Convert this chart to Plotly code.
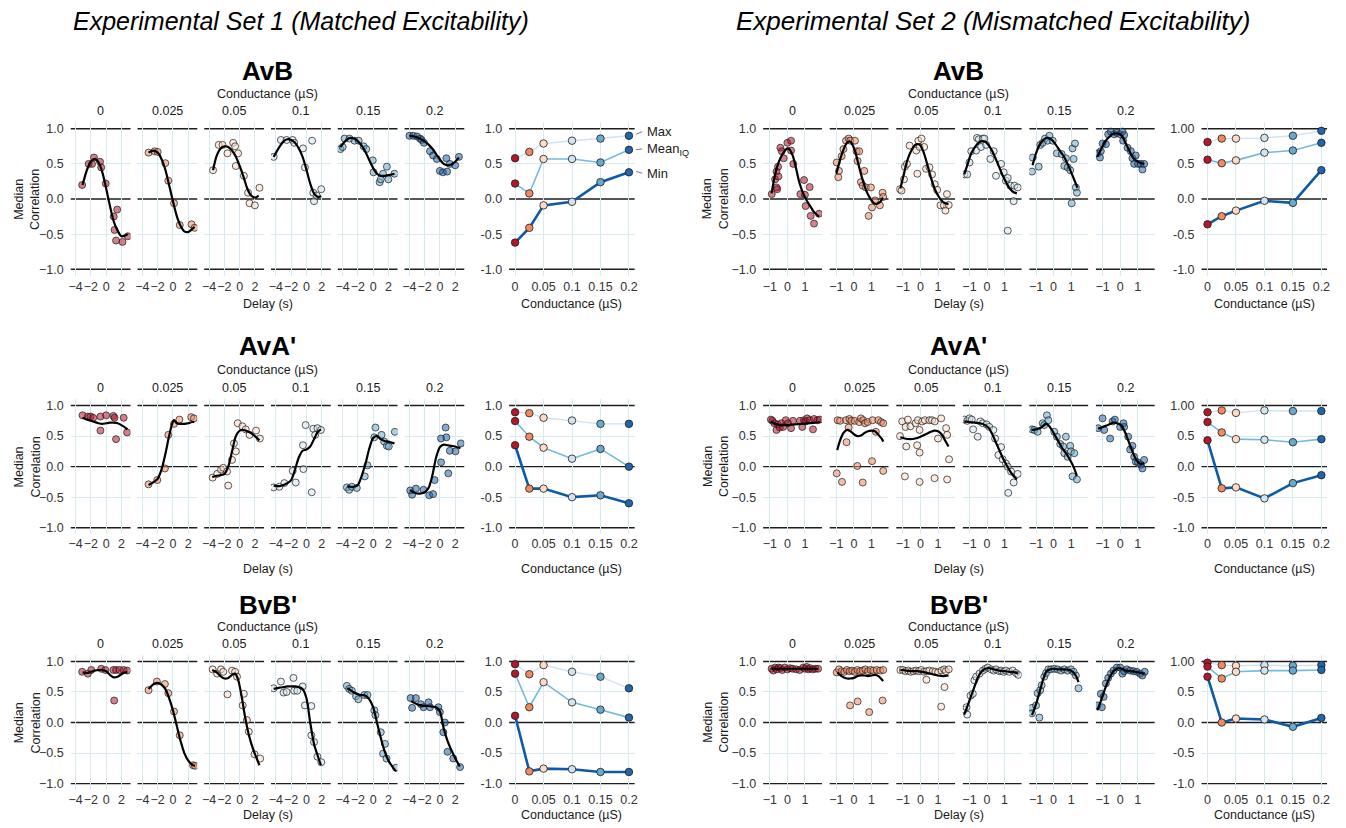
import plotly.graph_objects as go

W, H = 1346, 828
FONT = "Liberation Sans, Arial, Helvetica, sans-serif"

# ---------------- categories / ticks ----------------
conductance_labels = ["0", "0.025", "0.05", "0.1", "0.15", "0.2"]
conductance_values = [0, 0.025, 0.05, 0.1, 0.15, 0.2]
conductance_colors = ["#b2182b", "#ef8a62", "#fddbc7", "#d1e5f0", "#67a9cf", "#2166ac"]
point_colors = ["rgba(178,24,43,0.55)", "rgba(239,138,98,0.55)", "rgba(253,219,199,0.55)",
                "rgba(209,229,240,0.55)", "rgba(103,169,207,0.55)", "rgba(33,102,172,0.55)"]
set1_delay_ticks = [-4, -2, 0, 2]
set1_delay_ticktext = ["\u22124", "\u22122", "0", "2"]
set2_delay_ticks = [-1, 0, 1]
set2_delay_ticktext = ["\u22121", "0", "1"]
corr_ticks = [-1, -0.5, 0, 0.5, 1]
corr_grid = [-0.5, 0.5]
corr_black_lines = [-1, 0, 1]
corr_ticktext_small = ["\u22121.0", "\u22120.5", "0.0", "0.5", "1.0"]
corr_ticktext_sum1 = ["-1.0", "-0.5", "0.0", "0.5", "1.0"]
corr_ticktext_sum2 = ["-1.0", "-0.5", "0.0", "0.5", "1.00"]
summary_ticks = [0, 0.05, 0.1, 0.15, 0.2]
summary_ticktext = ["0", "0.05", "0.1", "0.15", "0.2"]

# ---------------- Set 1, AvB ----------------
s1_avb_delay = [
    [-3.15, -2.3, -1.85, -1.6, -0.8, -0.65, -0.05, 1.0, 1.1, 1.3, 1.45, 2.15, 2.85],
    [-3.2, -2.4, -2.0, -1.0, -0.6, 0.15, 0.9, 2.45, 2.85],
    [-3.5, -2.75, -2.25, -1.6, -0.85, -0.6, -0.5, -0.2, 0.55, 1.1, 1.3, 2.0, 2.6],
    [-4.3, -3.35, -2.6, -1.8, -1.6, -0.45, -0.2, 0.75, 0.9, 1.0, 1.35, 1.95],
    [-4.3, -4.0, -3.75, -3.1, -2.45, -1.9, -1.25, -0.9, -0.05, 0.05, 0.85, 1.0, 1.3, 1.8, 2.0, 2.8],
    [-4.0, -3.5, -3.0, -2.6, -2.4, -2.1, -1.3, -0.9, -0.4, 0.0, 0.4, 0.85, 0.95, 1.3, 2.0, 2.5],
]
s1_avb_corr = [
    [0.20, 0.50, 0.50, 0.59, 0.53, 0.45, 0.22, -0.25, -0.44, -0.59, -0.15, -0.61, -0.53],
    [0.66, 0.68, 0.67, 0.51, 0.26, -0.06, -0.37, -0.36, -0.41],
    [0.41, 0.77, 0.77, 0.65, 0.80, 0.75, 0.47, 0.65, 0.33, 0.09, -0.06, -0.09, 0.16],
    [0.60, 0.84, 0.84, 0.84, 0.80, 0.72, 0.45, 0.83, 0.09, -0.03, 0.05, 0.14],
    [0.71, 0.74, 0.86, 0.86, 0.83, 0.83, 0.75, 0.71, 0.55, 0.38, 0.24, 0.28, 0.36, 0.46, 0.28, 0.36],
    [0.90, 0.90, 0.89, 0.86, 0.84, 0.80, 0.68, 0.62, 0.57, 0.40, 0.38, 0.58, 0.39, 0.50, 0.48, 0.60],
]
s1_avb_fit_delay = [
    [-3.1, -2.5, -2, -1.5, -1, -0.5, 0, 0.5, 1, 1.5, 2, 2.5, 2.85],
    [-3.2, -2.6, -2, -1.5, -1, -0.5, 0, 0.5, 1, 1.5, 2, 2.5, 2.85],
    [-3.5, -3, -2.5, -2, -1.5, -1, -0.5, 0, 0.5, 1, 1.5, 2, 2.5],
    [-4.3, -3.5, -3, -2.5, -2, -1.5, -1, -0.5, 0, 0.5, 1, 1.5, 1.95],
    [-4.3, -3.5, -3, -2.5, -2, -1.5, -1, -0.5, 0, 0.5, 1, 1.5, 2, 2.8],
    [-4, -3, -2, -1, -0.5, 0, 0.5, 1, 1.5, 2, 2.5],
]
s1_avb_fit_corr = [
    [0.2, 0.42, 0.53, 0.57, 0.52, 0.38, 0.15, -0.1, -0.32, -0.45, -0.53, -0.52, -0.5],
    [0.66, 0.69, 0.66, 0.57, 0.42, 0.2, -0.03, -0.24, -0.38, -0.46, -0.47, -0.43, -0.4],
    [0.41, 0.62, 0.72, 0.75, 0.74, 0.69, 0.6, 0.47, 0.32, 0.15, 0.05, 0.02, 0.05],
    [0.6, 0.75, 0.82, 0.85, 0.84, 0.8, 0.72, 0.6, 0.42, 0.22, 0.08, 0.03, 0.04],
    [0.74, 0.84, 0.87, 0.86, 0.82, 0.76, 0.67, 0.55, 0.44, 0.36, 0.33, 0.33, 0.34, 0.36],
    [0.9, 0.88, 0.82, 0.72, 0.64, 0.56, 0.5, 0.48, 0.49, 0.53, 0.59],
]
s1_avb_max = [0.58, 0.67, 0.79, 0.83, 0.86, 0.90]
s1_avb_mean = [0.22, 0.08, 0.57, 0.57, 0.52, 0.70]
s1_avb_min = [-0.62, -0.41, -0.09, -0.04, 0.24, 0.38]

# ---------------- Set 1, AvA' ----------------
s1_ava_delay = [
    [-3.1, -2.4, -2.05, -1.7, -0.75, -0.75, 0.0, 0.95, 1.1, 1.3, 2.3, 2.75],
    [-3.2, -2.05, -1.05, -0.6, 0.15, 0.85, 2.4, 2.75],
    [-3.55, -2.95, -2.45, -2.15, -1.65, -1.5, -1.0, -0.75, -0.5, -0.25, 0.35, 0.8, 1.3, 2.15, 2.65],
    [-4.3, -3.55, -2.9, -1.8, -1.4, -0.45, -0.4, -0.1, 0.7, 0.9, 1.15, 1.45, 1.9],
    [-3.45, -3.15, -2.8, -2.15, -1.1, -0.75, 0.15, 0.3, 1.1, 1.45, 1.8, 2.05, 2.85],
    [-3.9, -3.65, -3.15, -2.15, -1.4, -0.9, -0.7, 0.15, 0.15, 0.85, 1.1, 0.75, 1.3, 2.05, 2.75],
]
s1_ava_corr = [
    [0.84, 0.82, 0.82, 0.80, 0.82, 0.59, 0.84, 0.83, 0.80, 0.45, 0.80, 0.56],
    [-0.29, -0.22, -0.03, 0.52, 0.70, 0.77, 0.81, 0.79],
    [-0.18, -0.12, -0.05, -0.02, -0.08, -0.31, 0.11, 0.38, 0.25, 0.71, 0.66, 0.61, 0.52, 0.59, 0.46],
    [-0.34, -0.33, -0.27, -0.07, -0.26, 0.35, -0.04, 0.68, -0.42, 0.62, 0.52, 0.63, 0.60],
    [-0.34, -0.38, -0.33, -0.35, -0.16, 0.02, 0.48, 0.64, 0.52, 0.41, 0.34, 0.33, 0.57],
    [-0.39, -0.46, -0.36, -0.38, -0.47, -0.45, -0.22, 0.07, 0.46, 0.48, -0.11, 0.64, 0.26, 0.25, 0.38],
]
s1_ava_fit_delay = [
    [-3.1, -2.5, -2, -1.5, -1, -0.5, 0, 0.5, 1, 1.5, 2, 2.5, 2.8],
    [-3.2, -2.5, -2, -1.5, -1, -0.5, -0.1, 0.15, 0.5, 1, 1.5, 2, 2.5, 2.8],
    [-3.6, -3, -2.5, -2, -1.5, -1, -0.5, 0, 0.5, 1, 1.5, 2, 2.6],
    [-4.3, -3.5, -3, -2.5, -2, -1.5, -1, -0.5, 0, 0.5, 1, 1.5, 1.9],
    [-3.4, -3, -2.5, -2, -1.5, -1, -0.5, 0, 0.5, 1, 1.5, 2, 2.8],
    [-3.9, -3.5, -3, -2.5, -2, -1.5, -1, -0.5, 0, 0.5, 1, 1.5, 2, 2.7],
]
s1_ava_fit_corr = [
    [0.8, 0.77, 0.75, 0.73, 0.71, 0.7, 0.71, 0.72, 0.72, 0.71, 0.68, 0.64, 0.61],
    [-0.3, -0.25, -0.2, -0.05, 0.2, 0.5, 0.7, 0.76, 0.71, 0.7, 0.7, 0.71, 0.73, 0.73],
    [-0.17, -0.15, -0.14, -0.12, 0.0, 0.25, 0.5, 0.59, 0.6, 0.58, 0.55, 0.5, 0.43],
    [-0.31, -0.32, -0.3, -0.27, -0.22, -0.05, 0.15, 0.26, 0.28, 0.33, 0.45, 0.57, 0.61],
    [-0.32, -0.33, -0.33, -0.3, -0.15, 0.05, 0.3, 0.47, 0.5, 0.45, 0.42, 0.41, 0.38],
    [-0.38, -0.42, -0.44, -0.44, -0.42, -0.35, -0.15, 0.15, 0.32, 0.36, 0.35, 0.34, 0.33, 0.3],
]
s1_ava_max = [0.89, 0.875, 0.80, 0.755, 0.70, 0.70]
s1_ava_mean = [0.745, 0.49, 0.31, 0.13, 0.29, 0.0]
s1_ava_min = [0.35, -0.36, -0.36, -0.50, -0.47, -0.60]

# ---------------- Set 1, BvB' ----------------
s1_bvb_delay = [
    [-3.15, -2.4, -1.95, -0.65, -0.1, 0.95, 1.05, 1.3, 1.75, 2.3, 2.75],
    [-3.2, -2.1, -1.05, -0.6, 0.15, 0.9, 2.65, 2.9],
    [-3.55, -2.95, -2.45, -2.15, -1.6, -1.0, -0.6, -0.35, 0.55, 0.4, 0.95, 1.2, 1.95, 2.7],
    [-4.3, -3.35, -3.0, -2.6, -1.7, -1.6, -1.2, -0.5, -0.2, 0.65, 0.65, 1.0, 1.45, 1.95],
    [-3.45, -3.15, -2.8, -2.25, -1.95, -1.15, -0.75, 0.15, 0.3, 1.0, 1.3, 1.55, 1.75, 3.0],
    [-3.85, -3.65, -3.15, -2.5, -2.15, -1.5, -1.3, -0.2, 0.0, 0.65, 0.45, 1.0, 1.75, 2.65],
]
s1_bvb_corr = [
    [0.83, 0.80, 0.86, 0.88, 0.86, 0.86, 0.36, 0.86, 0.86, 0.86, 0.85],
    [0.53, 0.67, 0.63, 0.48, 0.18, -0.21, -0.70, -0.71],
    [0.87, 0.80, 0.87, 0.83, 0.46, 0.85, 0.83, 0.75, 0.47, 0.28, 0.04, -0.15, -0.52, -0.59],
    [0.56, 0.67, 0.49, 0.50, 0.73, 0.52, 0.52, 0.59, 0.28, 0.27, -0.21, -0.32, -0.56, -0.65],
    [0.60, 0.55, 0.52, 0.43, 0.38, 0.45, 0.45, 0.20, 0.12, -0.16, -0.51, -0.35, -0.59, -0.74],
    [0.40, 0.24, 0.40, 0.30, 0.25, 0.33, 0.25, 0.25, 0.17, 0.0, -0.16, -0.48, -0.59, -0.73],
]
s1_bvb_fit_delay = [
    [-3.1, -2.5, -2, -1.5, -1, -0.5, 0, 0.5, 1, 1.5, 2, 2.5, 2.8],
    [-3.2, -2.5, -2, -1.5, -1, -0.5, 0, 0.5, 1, 1.5, 2, 2.5, 2.9],
    [-3.6, -3, -2.5, -2, -1.5, -1, -0.6, -0.2, 0.3, 0.7, 1.2, 1.8, 2.6],
    [-4.3, -3.5, -3, -2.5, -2, -1.5, -1, -0.5, 0, 0.5, 1, 1.5, 1.9],
    [-3.4, -3, -2.5, -2, -1.5, -1, -0.5, 0, 0.5, 1, 1.5, 2, 2.5, 3],
    [-3.8, -3.5, -3, -2.5, -2, -1.5, -1, -0.5, 0, 0.5, 1, 1.5, 2, 2.6],
]
s1_bvb_fit_corr = [
    [0.82, 0.81, 0.83, 0.85, 0.86, 0.86, 0.84, 0.78, 0.74, 0.75, 0.79, 0.82, 0.82],
    [0.55, 0.63, 0.65, 0.62, 0.55, 0.4, 0.2, -0.05, -0.3, -0.5, -0.62, -0.69, -0.71],
    [0.86, 0.82, 0.76, 0.72, 0.73, 0.78, 0.8, 0.7, 0.4, 0.1, -0.2, -0.45, -0.7],
    [0.55, 0.57, 0.58, 0.59, 0.59, 0.59, 0.58, 0.55, 0.4, 0.0, -0.35, -0.55, -0.7],
    [0.56, 0.53, 0.49, 0.46, 0.45, 0.44, 0.38, 0.25, 0.0, -0.25, -0.47, -0.62, -0.72, -0.8],
    [0.35, 0.33, 0.3, 0.28, 0.27, 0.27, 0.26, 0.25, 0.18, -0.1, -0.3, -0.45, -0.58, -0.72],
]
s1_bvb_max = [0.955, 0.79, 0.94, 0.83, 0.75, 0.56]
s1_bvb_mean = [0.80, 0.25, 0.66, 0.33, 0.21, 0.08]
s1_bvb_min = [0.11, -0.80, -0.755, -0.765, -0.81, -0.81]

# ---------------- Set 2, AvB ----------------
s2_avb_delay = [
    [-0.89, -0.7, -0.62, -0.62, -0.58, -0.53, -0.51, -0.4, -0.32, -0.21, 0.0, 0.21, 0.21, 0.34, 0.74, 0.95, 1.0, 1.04, 1.27, 1.33, 1.52, 1.8],
    [-0.98, -0.89, -0.85, -0.7, -0.6, -0.45, -0.3, -0.21, 0.06, 0.15, 0.21, 0.3, 0.4, 0.5, 0.59, 0.68, 0.84, 0.97, 1.03, 1.2, 1.48, 1.63, 1.67],
    [-1.17, -1.08, -0.94, -0.89, -0.77, -0.62, -0.24, -0.18, -0.12, -0.05, 0.06, 0.21, 0.32, 0.51, 0.66, 0.81, 0.95, 1.14, 1.33, 1.42, 1.51, 1.61],
    [-1.29, -1.13, -1.0, -0.9, -0.62, -0.57, -0.47, -0.34, -0.24, -0.15, -0.05, 0.19, 0.38, 0.51, 0.8, 0.95, 1.08, 1.18, 1.18, 1.33, 1.52, 1.56, 1.75],
    [-1.23, -1.19, -0.85, -0.76, -0.62, -0.49, -0.34, -0.24, -0.05, 0.19, 0.46, 0.61, 0.7, 0.8, 0.95, 1.03, 1.08, 1.14, 1.22, 1.27, 1.33],
    [-1.29, -1.15, -1.1, -1.0, -0.81, -0.68, -0.53, -0.34, -0.19, 0.0, 0.13, 0.17, 0.23, 0.42, 0.61, 0.7, 0.8, 0.89, 1.02, 1.18, 1.27, 1.37],
]
s2_avb_corr = [
    [0.07, 0.28, 0.165, 0.39, 0.14, 0.46, 0.32, 0.73, 0.68, 0.58, 0.80, 0.83, 0.69, 0.5, 0.07, 0.27, 0.06, -0.1, 0.17, -0.24, -0.35, -0.21],
    [0.52, 0.31, 0.40, 0.61, 0.71, 0.83, 0.86, 0.83, 0.83, 0.68, 0.54, 0.68, 0.24, 0.19, 0.40, 0.165, -0.24, 0.165, -0.12, -0.02, -0.09, 0.09, 0.03],
    [0.14, 0.12, 0.28, 0.46, 0.5, 0.76, 0.69, 0.36, 0.83, 0.74, 0.86, 0.74, 0.43, 0.45, 0.35, 0.21, 0.13, -0.09, -0.09, -0.165, 0.07, -0.085],
    [0.35, 0.35, 0.52, 0.68, 0.69, 0.87, 0.85, 0.74, 0.86, 0.86, 0.77, 0.57, 0.68, 0.33, 0.5, 0.38, 0.26, 0.3, -0.45, 0.19, -0.03, 0.19, 0.165],
    [0.39, 0.59, 0.46, 0.77, 0.80, 0.86, 0.83, 0.9, 0.83, 0.65, 0.64, 0.47, 0.58, 0.45, 0.41, -0.06, 0.72, 0.57, 0.79, 0.165, 0.09],
    [0.65, 0.59, 0.68, 0.79, 0.78, 0.92, 0.96, 0.92, 0.94, 0.92, 0.96, 0.83, 0.91, 0.73, 0.68, 0.58, 0.5, 0.62, 0.5, 0.5, 0.42, 0.5],
]
s2_avb_fit_delay = [
    [-0.9, -0.7, -0.5, -0.3, -0.1, 0, 0.1, 0.3, 0.5, 0.7, 0.9, 1.1, 1.3, 1.5, 1.8],
    [-1, -0.8, -0.6, -0.4, -0.25, -0.1, 0.1, 0.3, 0.5, 0.7, 0.9, 1.1, 1.3, 1.5, 1.65],
    [-1.15, -0.95, -0.75, -0.5, -0.3, -0.15, 0, 0.2, 0.4, 0.6, 0.8, 1.0, 1.2, 1.4, 1.6],
    [-1.3, -1.1, -0.9, -0.6, -0.35, -0.15, 0.05, 0.3, 0.5, 0.7, 0.9, 1.1, 1.3, 1.5, 1.7],
    [-1.2, -1.0, -0.8, -0.55, -0.35, -0.1, 0.1, 0.35, 0.6, 0.8, 1.0, 1.2, 1.36],
    [-1.3, -1.1, -0.9, -0.6, -0.35, -0.1, 0.1, 0.3, 0.5, 0.7, 0.9, 1.1, 1.37],
]
s2_avb_fit_corr = [
    [0.08, 0.35, 0.52, 0.63, 0.7, 0.72, 0.71, 0.62, 0.43, 0.22, 0.08, -0.02, -0.1, -0.18, -0.25],
    [0.36, 0.55, 0.7, 0.8, 0.82, 0.78, 0.65, 0.45, 0.27, 0.12, 0.02, -0.05, -0.07, -0.04, 0.02],
    [0.15, 0.35, 0.55, 0.7, 0.77, 0.78, 0.76, 0.65, 0.48, 0.3, 0.15, 0.05, -0.02, -0.06, -0.07],
    [0.35, 0.5, 0.65, 0.77, 0.82, 0.82, 0.78, 0.68, 0.57, 0.45, 0.33, 0.23, 0.15, 0.1, 0.08],
    [0.48, 0.65, 0.77, 0.85, 0.87, 0.84, 0.78, 0.69, 0.6, 0.5, 0.38, 0.26, 0.16],
    [0.6, 0.7, 0.8, 0.89, 0.93, 0.93, 0.9, 0.8, 0.7, 0.6, 0.55, 0.52, 0.5],
]
s2_avb_max = [0.81, 0.86, 0.86, 0.87, 0.90, 0.97]
s2_avb_mean = [0.56, 0.51, 0.55, 0.66, 0.69, 0.80]
s2_avb_min = [-0.36, -0.245, -0.165, -0.025, -0.055, 0.41]

# ---------------- Set 2, AvA' ----------------
s2_ava_delay = [
    [-0.94, -0.85, -0.74, -0.62, -0.55, -0.43, -0.34, -0.24, -0.09, 0.04, 0.21, 0.32, 0.72, 0.85, 0.95, 1.04, 1.13, 1.27, 1.46, 1.52, 1.71, 1.84],
    [-0.93, -0.79, -0.45, -0.26, -0.15, 0.04, 0.3, 0.4, 0.53, 0.63, 0.78, 1.06, 1.39, 1.54, 1.67, -0.98, -0.68, -0.42, -0.3, 0.19, 0.5, 1.03, 1.25, 1.67],
    [-1.17, -1.04, -0.85, -0.72, -0.57, -0.28, -0.15, -0.05, 0.1, 0.25, 0.51, 0.66, 0.81, 1.18, 1.46, 1.52, 1.63, -0.81, -0.89, -0.19, -0.05, -0.05, 0.8, 1.52, 1.0],
    [-1.29, -1.13, -1.0, -0.87, -0.79, -0.53, -0.38, -0.24, -0.02, 0.13, 0.36, 0.46, 0.8, 0.65, 0.89, 1.08, 1.18, 1.21, 1.37, 1.52, 1.75],
    [-1.23, -1.1, -0.91, -0.62, -0.53, -0.38, -0.3, 0.04, 0.19, 0.38, 0.55, 0.7, 0.61, 0.8, 0.95, 0.99, 1.08, 1.33, 1.18],
    [-1.25, -1.0, -0.91, -0.57, -0.43, -0.3, 0.0, 0.19, 0.23, 0.46, 0.57, 0.7, 0.8, 0.89, 1.02, 1.18, 1.27, 1.37],
]
s2_ava_corr = [
    [0.77, 0.75, 0.71, 0.6, 0.69, 0.64, 0.71, 0.65, 0.76, 0.71, 0.63, 0.75, 0.75, 0.65, 0.76, 0.74, 0.79, 0.76, 0.61, 0.78, 0.76, 0.77],
    [0.76, 0.75, 0.76, 0.78, 0.75, 0.75, 0.73, 0.79, 0.76, 0.71, 0.73, 0.76, 0.76, 0.73, 0.71, -0.11, -0.25, 0.4, 0.64, 0.01, -0.26, 0.09, 0.57, -0.07],
    [0.5, 0.74, 0.65, 0.77, 0.66, 0.71, 0.76, 0.6, 0.74, 0.76, 0.76, 0.76, 0.74, 0.79, 0.63, 0.52, 0.12, 0.33, -0.16, 0.35, 0.23, -0.25, -0.19, -0.21, 0.46],
    [0.77, 0.75, 0.79, 0.77, 0.61, 0.49, 0.74, 0.71, 0.69, 0.65, 0.6, 0.46, 0.32, 0.19, 0.12, 0.05, 0.0, -0.43, -0.08, -0.26, -0.12],
    [0.61, 0.6, 0.57, 0.71, 0.68, 0.84, 0.76, 0.57, 0.49, 0.37, 0.33, 0.49, 0.22, 0.16, 0.34, 0.25, -0.16, -0.21, 0.22],
    [0.63, 0.79, 0.6, 0.46, 0.74, 0.77, 0.65, 0.71, 0.65, 0.49, 0.28, 0.34, 0.16, 0.08, 0.07, 0.03, -0.03, 0.11],
]
s2_ava_fit_delay = [
    [-0.95, -0.7, -0.4, 0, 0.4, 0.8, 1.2, 1.6, 1.85],
    [-0.95, -0.8, -0.6, -0.4, -0.2, 0, 0.2, 0.4, 0.6, 0.8, 1.0, 1.2, 1.4, 1.6, 1.67],
    [-1.15, -0.9, -0.6, -0.3, 0, 0.3, 0.6, 0.8, 1.0, 1.2, 1.4, 1.6],
    [-1.3, -1, -0.7, -0.4, -0.1, 0.1, 0.3, 0.5, 0.7, 0.9, 1.1, 1.3, 1.5, 1.7],
    [-1.25, -1.0, -0.7, -0.45, -0.3, -0.1, 0.1, 0.3, 0.5, 0.7, 0.9, 1.1, 1.33],
    [-1.25, -1.0, -0.7, -0.4, -0.1, 0.1, 0.3, 0.5, 0.7, 0.9, 1.1, 1.3, 1.37],
]
s2_ava_fit_corr = [
    [0.74, 0.7, 0.68, 0.68, 0.69, 0.7, 0.71, 0.72, 0.73],
    [0.27, 0.42, 0.55, 0.6, 0.58, 0.53, 0.5, 0.51, 0.55, 0.58, 0.59, 0.58, 0.52, 0.45, 0.41],
    [0.48, 0.46, 0.45, 0.46, 0.49, 0.53, 0.57, 0.59, 0.58, 0.53, 0.43, 0.33],
    [0.74, 0.73, 0.72, 0.71, 0.68, 0.63, 0.53, 0.4, 0.27, 0.14, 0.03, -0.07, -0.15, -0.21],
    [0.6, 0.61, 0.64, 0.7, 0.68, 0.6, 0.5, 0.4, 0.3, 0.22, 0.13, 0.02, -0.15],
    [0.62, 0.65, 0.68, 0.72, 0.7, 0.66, 0.55, 0.4, 0.25, 0.12, 0.05, 0.05, 0.06],
]
s2_ava_max = [0.89, 0.92, 0.88, 0.92, 0.91, 0.91]
s2_ava_mean = [0.73, 0.56, 0.45, 0.44, 0.40, 0.45]
s2_ava_min = [0.43, -0.355, -0.34, -0.52, -0.27, -0.14]

# ---------------- Set 2, BvB' ----------------
s2_bvb_delay = [
    [-0.9, -0.8, -0.7, -0.6, -0.5, -0.4, -0.3, -0.15, 0, 0.15, 0.3, 0.5, 0.7, 0.9, 1.0, 1.1, 1.2, 1.3, 1.45, 1.6, 1.75],
    [-0.98, -0.85, -0.7, -0.55, -0.4, -0.25, -0.1, 0.05, 0.2, 0.35, 0.5, 0.65, 0.8, 0.95, 1.1, 1.3, 1.5, 1.67, -0.22, 0.21, 0.87, 1.63],
    [-1.15, -1.0, -0.85, -0.7, -0.55, -0.4, -0.25, -0.1, 0.05, 0.2, 0.35, 0.5, 0.7, 0.85, 1.0, 1.2, 1.35, 1.45, 0.34, 1.18, 1.37, 1.61],
    [-1.29, -1.17, -1.13, -0.94, -0.81, -0.72, -0.62, -0.43, -0.24, -0.09, 0.04, 0.23, 0.38, 0.51, 0.7, 0.8, 0.95, 1.08, 1.27, 1.46, 1.65, 1.78],
    [-1.23, -1.23, -1.0, -0.81, -0.91, -0.76, -0.68, -0.53, -0.43, -0.3, -0.15, 0.04, 0.23, 0.42, 0.61, 0.8, 0.99, 1.14, 1.27, 1.42],
    [-1.29, -1.04, -1.1, -0.94, -0.81, -0.68, -0.53, -0.38, -0.19, 0.0, 0.13, 0.23, 0.38, 0.57, 0.76, 0.95, 1.14, 1.27, 1.4],
]
s2_bvb_corr = [
    [0.88, 0.85, 0.9, 0.87, 0.9, 0.89, 0.86, 0.9, 0.87, 0.89, 0.88, 0.87, 0.86, 0.9, 0.88, 0.91, 0.87, 0.89, 0.87, 0.88, 0.88],
    [0.82, 0.87, 0.84, 0.83, 0.86, 0.84, 0.85, 0.83, 0.86, 0.84, 0.85, 0.87, 0.84, 0.86, 0.85, 0.86, 0.85, 0.86, 0.28, 0.345, 0.17, 0.36],
    [0.86, 0.86, 0.84, 0.85, 0.83, 0.84, 0.85, 0.84, 0.86, 0.83, 0.84, 0.85, 0.84, 0.83, 0.82, 0.85, 0.87, 0.84, 0.70, 0.26, 0.58, 0.87],
    [0.21, 0.25, 0.13, 0.44, 0.47, 0.69, 0.75, 0.8, 0.85, 0.88, 0.9, 0.87, 0.85, 0.87, 0.84, 0.85, 0.83, 0.85, 0.83, 0.85, 0.81, 0.78],
    [0.24, 0.15, 0.28, 0.08, 0.48, 0.53, 0.61, 0.75, 0.81, 0.87, 0.87, 0.88, 0.87, 0.85, 0.87, 0.85, 0.87, 0.83, 0.77, 0.56],
    [0.28, 0.25, 0.47, 0.42, 0.64, 0.73, 0.8, 0.85, 0.9, 0.9, 0.8, 0.84, 0.87, 0.85, 0.84, 0.83, 0.8, 0.77, 0.83],
]
s2_bvb_fit_delay = [
    [-0.9, -0.4, 0, 0.5, 1.0, 1.5, 1.75],
    [-0.95, -0.8, -0.6, -0.4, -0.2, 0, 0.2, 0.4, 0.6, 0.8, 1.0, 1.2, 1.4, 1.6, 1.67],
    [-1.15, -0.8, -0.5, -0.2, 0.1, 0.4, 0.7, 1.0, 1.3, 1.6],
    [-1.3, -1.1, -0.9, -0.7, -0.5, -0.3, -0.1, 0.1, 0.4, 0.7, 1.0, 1.3, 1.6, 1.78],
    [-1.23, -1.0, -0.8, -0.6, -0.4, -0.2, 0.0, 0.3, 0.6, 0.9, 1.1, 1.3, 1.42],
    [-1.3, -1.1, -0.9, -0.7, -0.5, -0.3, -0.1, 0.1, 0.3, 0.6, 0.9, 1.2, 1.4],
]
s2_bvb_fit_corr = [
    [0.88, 0.88, 0.88, 0.88, 0.88, 0.88, 0.88],
    [0.82, 0.78, 0.74, 0.72, 0.72, 0.73, 0.76, 0.77, 0.77, 0.76, 0.77, 0.78, 0.76, 0.7, 0.68],
    [0.86, 0.85, 0.84, 0.84, 0.83, 0.81, 0.79, 0.77, 0.76, 0.77],
    [0.13, 0.28, 0.44, 0.6, 0.75, 0.84, 0.88, 0.89, 0.87, 0.85, 0.84, 0.83, 0.82, 0.8],
    [0.12, 0.3, 0.5, 0.7, 0.84, 0.87, 0.88, 0.87, 0.87, 0.86, 0.83, 0.75, 0.66],
    [0.2, 0.35, 0.52, 0.67, 0.79, 0.86, 0.89, 0.88, 0.85, 0.84, 0.83, 0.81, 0.8],
]
s2_bvb_max = [0.98, 0.94, 0.93, 0.94, 0.93, 0.94]
s2_bvb_mean = [0.915, 0.72, 0.83, 0.85, 0.85, 0.86]
s2_bvb_min = [0.75, 0.0, 0.065, 0.05, -0.07, 0.075]

row_titles = ["AvB", "AvA'", "BvB'"]
set_titles = ["Experimental Set 1 (Matched Excitability)", "Experimental Set 2 (Mismatched Excitability)"]

# ---------------- geometry (pixels) ----------------
GRID = "#d9ebee"
BLACK = "#1e1e1e"
TICK = "#333333"
rows_px = [(121, 276), (399.4, 534.1), (655.9, 790.6)]
row_title_y = [70, 346, 605]
strip_head_y = [93, 370, 628]
strip_y = [110, 388, 645]
xtitle_y = [304, 569, 816]
sets = [
    dict(lefts=[69 + 67 * k for k in range(6)], width=60, xr=[-4.65, 3.2],
         ticks=set1_delay_ticks, ticktext=set1_delay_ticktext, sum_x=(509, 635),
         sum_ticktext=corr_ticktext_sum1, ytitle_x=25, title_x=300, title_size=25),
    dict(lefts=[764 + 66.8 * k for k in range(6)], width=59, xr=[-1.38, 1.97],
         ticks=set2_delay_ticks, ticktext=set2_delay_ticktext, sum_x=(1204, 1330),
         sum_ticktext=corr_ticktext_sum2, ytitle_x=716, title_x=995, title_size=26),
]
data = [
    [(s1_avb_delay, s1_avb_corr, s1_avb_fit_delay, s1_avb_fit_corr, s1_avb_max, s1_avb_mean, s1_avb_min),
     (s1_ava_delay, s1_ava_corr, s1_ava_fit_delay, s1_ava_fit_corr, s1_ava_max, s1_ava_mean, s1_ava_min),
     (s1_bvb_delay, s1_bvb_corr, s1_bvb_fit_delay, s1_bvb_fit_corr, s1_bvb_max, s1_bvb_mean, s1_bvb_min)],
    [(s2_avb_delay, s2_avb_corr, s2_avb_fit_delay, s2_avb_fit_corr, s2_avb_max, s2_avb_mean, s2_avb_min),
     (s2_ava_delay, s2_ava_corr, s2_ava_fit_delay, s2_ava_fit_corr, s2_ava_max, s2_ava_mean, s2_ava_min),
     (s2_bvb_delay, s2_bvb_corr, s2_bvb_fit_delay, s2_bvb_fit_corr, s2_bvb_max, s2_bvb_mean, s2_bvb_min)],
]


def px_x(p):
    return p / W


def px_y(p):
    return 1 - p / H


fig = go.Figure()
axes = {}
shapes = []
annotations = []
counter = [0]


def new_axes(x0, x1, y0, y1, xr, xtv, xtt, ytt, show_y):
    counter[0] += 1
    n = counter[0]
    xa, ya = ("xaxis", "yaxis") if n == 1 else (f"xaxis{n}", f"yaxis{n}")
    xid, yid = ("x", "y") if n == 1 else (f"x{n}", f"y{n}")
    tickfont = dict(family=FONT, size=12.5, color=TICK)
    axes[xa] = dict(domain=[px_x(x0), px_x(x1)], range=xr, anchor=yid, tickmode="array",
                    tickvals=xtv, ticktext=xtt, showgrid=True, gridcolor=GRID, gridwidth=1.3,
                    zeroline=False, showline=False, ticks="", tickfont=tickfont, tickangle=0,
                    ticklabelstandoff=1, fixedrange=True)
    axes[ya] = dict(domain=[px_y(y1), px_y(y0)], range=[-1.1, 1.1], anchor=xid, tickmode="array",
                    tickvals=corr_ticks, ticktext=ytt, showticklabels=show_y, showgrid=False,
                    minor=dict(tickmode="array", tickvals=corr_grid, showgrid=True,
                               gridcolor=GRID, gridwidth=1.3, ticks=""),
                    zeroline=False, showline=False, ticks="",
                    tickfont=tickfont, ticklabelstandoff=6, fixedrange=True)
    for v in corr_black_lines:
        shapes.append(dict(type="line", xref=f"{xid} domain", yref=yid, x0=0, x1=1, y0=v, y1=v,
                           line=dict(color=BLACK, width=1.4), layer="below"))
    return xid, yid


def text(x, y, s, size=12.5, color="#1a1a1a", angle=0, xanchor="center"):
    annotations.append(dict(x=px_x(x), y=px_y(y), xref="paper", yref="paper", text=s,
                            showarrow=False, xanchor=xanchor, yanchor="middle", textangle=angle,
                            font=dict(family=FONT, size=size, color=color)))


for si, st in enumerate(sets):
    text(st["title_x"], 20, f"<i>{set_titles[si]}</i>", size=st["title_size"], color="black")
    small_center = (st["lefts"][0] + st["lefts"][-1] + st["width"]) / 2
    sum_center = (st["sum_x"][0] + st["sum_x"][1]) / 2
    for ri in range(3):
        y0, y1 = rows_px[ri]
        delay, corr, fdelay, fcorr, vmax, vmean, vmin = data[si][ri]
        text(small_center, row_title_y[ri], f"<b>{row_titles[ri]}</b>", size=26, color="black")
        text(small_center, strip_head_y[ri], "Conductance (\u00b5S)", size=12.5)
        text(small_center, xtitle_y[ri], "Delay (s)", size=12.5)
        text(sum_center, xtitle_y[ri], "Conductance (\u00b5S)", size=12.5)
        text(st["ytitle_x"], (y0 + y1) / 2, "Median<br>Correlation", size=12.5, angle=-90)
        for k in range(6):
            left = st["lefts"][k]
            xid, yid = new_axes(left, left + st["width"], y0, y1, st["xr"], st["ticks"],
                                st["ticktext"], corr_ticktext_small, k == 0)
            text(left + st["width"] / 2, strip_y[ri], conductance_labels[k], size=12.5)
            fig.add_trace(go.Scatter(
                x=delay[k], y=corr[k], mode="markers", xaxis=xid, yaxis=yid,
                marker=dict(size=7, color=point_colors[k], line=dict(color="#1a1a1a", width=0.7)),
                showlegend=False, hoverinfo="skip"))
            fig.add_trace(go.Scatter(
                x=fdelay[k], y=fcorr[k], mode="lines", xaxis=xid, yaxis=yid,
                line=dict(color="black", width=2.2, shape="spline", smoothing=0.8),
                showlegend=False, hoverinfo="skip"))
        # summary panel
        xid, yid = new_axes(st["sum_x"][0], st["sum_x"][1], y0, y1, [-0.0105, 0.21],
                            summary_ticks, summary_ticktext, st["sum_ticktext"], True)
        for vals, lc, lw in ((vmax, "#cfe3f0", 1.4), (vmean, "#74b9e0", 1.6), (vmin, "#0d5aa7", 2.6)):
            fig.add_trace(go.Scatter(
                x=conductance_values, y=vals, mode="lines+markers", xaxis=xid, yaxis=yid,
                line=dict(color=lc, width=lw),
                marker=dict(size=7.5, color=conductance_colors, line=dict(color="#1a1a1a", width=0.8)),
                showlegend=False, hoverinfo="skip"))

# legend-like labels on the first summary panel
for (lx0, ly0, lx1, ly1, label, ty) in ((636.5, 133.5, 642.5, 131, "Max", 131),
                                        (636.5, 149, 642.5, 148.3, "Mean<sub>IQ</sub>", 149),
                                        (636.5, 170.8, 642.5, 172.7, "Min", 172.5)):
    shapes.append(dict(type="line", xref="paper", yref="paper", x0=px_x(lx0), y0=px_y(ly0),
                       x1=px_x(lx1), y1=px_y(ly1), line=dict(color="#555555", width=0.8)))
    text(645, ty, label, size=13, xanchor="left")

fig.update_layout(width=W, height=H, margin=dict(l=0, r=0, t=0, b=0),
                  paper_bgcolor="white", plot_bgcolor="white",
                  font=dict(family=FONT), shapes=shapes, annotations=annotations,
                  showlegend=False, **axes)
fig.write_html("out.html", config={"displayModeBar": False},
               post_script="document.body.style.margin='0px';document.body.style.overflow='hidden';")
